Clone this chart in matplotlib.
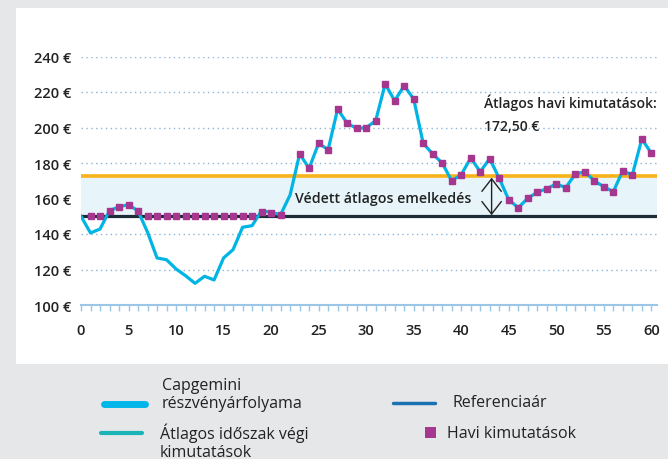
import numpy as np
import matplotlib.pyplot as plt
from matplotlib.lines import Line2D
from matplotlib.patches import Rectangle

plt.rcParams['font.family'] = ['Open Sans', 'DejaVu Sans']

# share price, one point per month
months = list(range(0, 61))
price = [150, 140.6, 142.8, 153.1, 155.4, 156.5, 153.0, 141.0, 126.5, 125.5,
         120.3, 116.5, 112.2, 116.2, 114.1, 126.5, 131.2, 143.8, 144.7, 153.1,
         152.2, 150.9, 162.0, 185.1, 177.0, 191.1, 187.5, 210.4, 202.4, 199.5,
         199.9, 203.8, 224.5, 215.1, 223.5, 216.1, 191.1, 185.1, 180.0, 170.0,
         173.4, 182.8, 175.1, 182.4, 171.4, 159.3, 154.8, 160.1, 163.5, 165.5,
         168.2, 166.1, 173.8, 175.1, 170.0, 166.6, 163.8, 175.7, 173.2, 193.5,
         185.6]

# monthly observations (floored at the reference price)
obs_months = list(range(1, 22)) + list(range(23, 61))
obs_values = [150, 150, 153.1, 155.4, 156.5, 153.0, 150, 150, 150, 150,
              150, 150, 150, 150, 150, 150, 150, 150, 152.5, 152.0,
              150.9] + price[23:61]

reference = 150
average = 172.5

y_ticks = [100, 120, 140, 160, 180, 200, 220, 240]
x_ticks = list(range(0, 61, 5))

W, H = 668, 460
fig = plt.figure(figsize=(W / 100, H / 100), dpi=100, facecolor='#e6e7e9')
fig.add_artist(Rectangle((16 / W, (H - 365) / H), (W - 16) / W, 356 / H,
                         transform=fig.transFigure, facecolor='white',
                         edgecolor='none', zorder=0))

ax = fig.add_axes([81 / W, (H - 306) / H, 576 / W, 248.5 / H])
ax.set_facecolor('none')
ax.set_xlim(0, 60.6)
ax.set_ylim(100, 240)

for s in ['top', 'right', 'left']:
    ax.spines[s].set_visible(False)
ax.spines['bottom'].set_color('#9cc6e6')
ax.spines['bottom'].set_linewidth(1.5)

for v in y_ticks[1:]:
    ax.axhline(v, color='#8db5da', lw=1, ls=(0, (1, 2.5)), zorder=1)

ax.fill_between([0, 60.6], reference, average, color='#e7f4fa', lw=0, zorder=2)
ax.axhline(average, color='#f8b318', lw=2.6, zorder=3)
ax.axhline(reference, color='#1b2c38', lw=2.3, zorder=3)

ax.plot(months, price, color='#00b4e4', lw=2.3, zorder=4, solid_joinstyle='round')
ax.plot(obs_months, obs_values, ls='none', marker='s', ms=4.6, color='#a5378f',
        zorder=5, clip_on=False)

ax.set_yticks(y_ticks)
ax.set_yticklabels([f'{v} €' for v in y_ticks])
ax.set_xticks(x_ticks)
ax.set_xticks(range(0, 61), minor=True)
ax.tick_params(axis='y', length=0, pad=7, labelsize=10.5, labelcolor='#222222')
ax.tick_params(axis='x', which='both', length=4, color='#9cc6e6', width=1,
               pad=9, labelsize=10.5, labelcolor='#222222')
for lab in ax.get_xticklabels() + ax.get_yticklabels():
    lab.set_fontweight('semibold')

ax.text(22.5, 160.5, 'Védett átlagos emelkedés', fontsize=10.2,
        fontweight='semibold', color='#222222', va='center', zorder=6)
ax.annotate('', xy=(43.2, reference + 0.6), xytext=(43.2, average - 0.8),
            arrowprops=dict(arrowstyle='<->,head_length=0.45,head_width=0.35',
                            color='#222222', lw=1, mutation_scale=20,
                            shrinkA=0, shrinkB=0), zorder=6)
ax.text(42.4, 214.5, 'Átlagos havi kimutatások:', fontsize=10.0,
        fontweight='semibold', color='#222222', va='center')
ax.text(42.4, 200.8, '172,50 €', fontsize=10.0, fontweight='semibold',
        color='#222222', va='center')

# legend, drawn by hand
def fx(px):
    return px / W

def fy(py):
    return (H - py) / H

fig.add_artist(Line2D([fx(104), fx(145)], [fy(405), fy(405)], color='#00b6e8',
                      lw=5, solid_capstyle='round'))
fig.text(fx(162), fy(395), 'Capgemini\nrészvényárfolyama', fontsize=11.5,
         color='#222222', va='center', linespacing=1.15)
fig.add_artist(Line2D([fx(101), fx(142)], [fy(434), fy(434)], color='#1bb4b8',
                      lw=3, solid_capstyle='round'))
fig.text(fx(160), fy(442), 'Átlagos időszak végi\nkimutatások', fontsize=11.5,
         color='#222222', va='center', linespacing=1.15)
fig.add_artist(Line2D([fx(393), fx(435)], [fy(404), fy(404)], color='#1a73b0',
                      lw=2.5, solid_capstyle='round'))
fig.text(fx(452), fy(403), 'Referenciaár', fontsize=11.5, color='#222222',
         va='center')
fig.add_artist(Rectangle((fx(425), fy(439)), 11 / W, 11 / H,
                         transform=fig.transFigure, facecolor='#a5378f',
                         edgecolor='none'))
fig.text(fx(447), fy(434), 'Havi kimutatások', fontsize=11.5, color='#222222',
         va='center')

fig.savefig('out.png', dpi=100, facecolor=fig.get_facecolor())
